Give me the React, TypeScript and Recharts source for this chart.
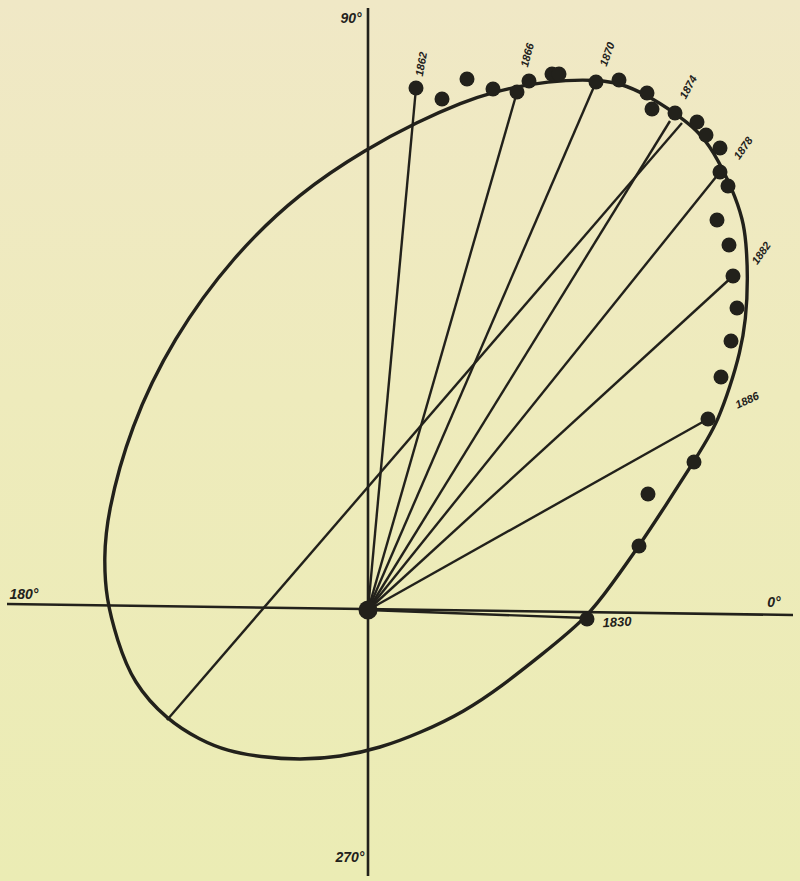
import React from 'react';
import { ScatterChart, Scatter, XAxis, YAxis, ReferenceLine } from 'recharts';

// Coordinates: offsets from the origin of the diagram (east = +x, north = +y)
const orbitPoints = [
  { x: 0, y: 462 }, { x: -68, y: 418 }, { x: -135, y: 354 }, { x: -195, y: 272 },
  { x: -238, y: 183 }, { x: -261, y: 95 }, { x: -264, y: 52 }, { x: -262, y: 12 },
  { x: -251, y: -30 }, { x: -235, y: -73 }, { x: -201, y: -110 }, { x: -168, y: -130 },
  { x: -141, y: -141 }, { x: -108, y: -147 }, { x: -68, y: -150 }, { x: -28, y: -147 },
  { x: 12, y: -138 }, { x: 52, y: -123 }, { x: 96, y: -102 }, { x: 134, y: -76 },
  { x: 172, y: -46 }, { x: 219, y: -8 }, { x: 244, y: 26 }, { x: 271, y: 64 },
  { x: 298, y: 105 }, { x: 325, y: 147 }, { x: 339, y: 170 }, { x: 350, y: 190 },
  { x: 362, y: 223 }, { x: 372, y: 257 }, { x: 378, y: 290 }, { x: 380, y: 333 },
  { x: 378, y: 369 }, { x: 375, y: 390 }, { x: 365, y: 420 }, { x: 345, y: 460 },
  { x: 329, y: 480 }, { x: 307, y: 497 }, { x: 279, y: 515 }, { x: 252, y: 527 },
  { x: 229, y: 530 }, { x: 199, y: 530 }, { x: 162, y: 526 }, { x: 125, y: 518 },
  { x: 95, y: 508 }, { x: 49, y: 488 },
];

const observations = [
  { x: 48, y: 522 }, { x: 74, y: 511 }, { x: 99, y: 531 }, { x: 125, y: 521 },
  { x: 149, y: 518 }, { x: 161, y: 529 }, { x: 184, y: 536 }, { x: 191, y: 536 },
  { x: 228, y: 528 }, { x: 251, y: 530 }, { x: 279, y: 517 }, { x: 284, y: 501 },
  { x: 307, y: 497 }, { x: 329, y: 488 }, { x: 338, y: 475 }, { x: 352, y: 462 },
  { x: 352, y: 438 }, { x: 360, y: 424 }, { x: 349, y: 390 }, { x: 361, y: 365 },
  { x: 365, y: 334 }, { x: 369, y: 302 }, { x: 363, y: 269 }, { x: 353, y: 233 },
  { x: 340, y: 191 }, { x: 326, y: 148 }, { x: 280, y: 116 }, { x: 271, y: 64 },
  { x: 219, y: -9 },
];

const primary = [{ x: 0, y: 0 }];

const radiusVectors = [
  { year: '1862', x: 48, y: 522 },
  { year: '1866', x: 149, y: 518 },
  { year: '1870', x: 228, y: 528 },
  { year: '1874', x: 302, y: 489 },
  { year: '1878', x: 352, y: 438 },
  { year: '1882', x: 365, y: 334 },
  { year: '1886', x: 340, y: 191 },
  { year: '1830', x: 219, y: -8 },
];

const majorAxis = [{ x: -201, y: -110 }, { x: 314, y: 487 }];

const horizontalAxis = [{ x: -361, y: 6 }, { x: 425, y: -5 }];
const verticalAxis = [{ x: 0, y: 602 }, { x: 0, y: -266 }];

const yearLabels = [
  { text: '1862', x: 53, y: 546 },
  { text: '1866', x: 159, y: 555 },
  { text: '1870', x: 239, y: 556 },
  { text: '1874', x: 320, y: 523 },
  { text: '1878', x: 375, y: 462 },
  { text: '1882', x: 393, y: 357 },
  { text: '1886', x: 379, y: 210 },
  { text: '1830', x: 249, y: -12 },
];

const axisLabels = [
  { text: '90°', x: -17, y: 592 },
  { text: '270°', x: -18, y: -247 },
  { text: '180°', x: -344, y: 16 },
  { text: '0°', x: 406, y: 8 },
];

const labelAngle: Record<string, number> = {
  '1862': -80, '1866': -75, '1870': -70, '1874': -62,
  '1878': -55, '1882': -55, '1886': -25, '1830': -3,
};

const INK = '#22211b';
const X_DOMAIN: [number, number] = [-368, 432];
const Y_DOMAIN: [number, number] = [-271, 610];

const YearText = (p: any) => {
  const a = labelAngle[p.payload.text] ?? 0;
  return (
    <text
      x={p.cx}
      y={p.cy}
      textAnchor="middle"
      dominantBaseline="central"
      transform={`rotate(${a}, ${p.cx}, ${p.cy})`}
      fontFamily="Liberation Sans, Arial, sans-serif"
      fontStyle="italic"
      fontWeight="bold"
      fontSize={p.payload.text === '1830' ? 13 : 11}
      fill={INK}
    >
      {p.payload.text}
    </text>
  );
};

const AxisText = (p: any) => (
  <text
    x={p.cx}
    y={p.cy}
    textAnchor="middle"
    dominantBaseline="central"
    fontFamily="Liberation Sans, Arial, sans-serif"
    fontStyle="italic"
    fontWeight="bold"
    fontSize={14}
    fill={INK}
  >
    {p.payload.text}
  </text>
);

export default function App() {
  return (
    <div
      style={{
        position: 'absolute',
        left: 0,
        top: 0,
        width: 800,
        height: 881,
        background: 'linear-gradient(180deg, #f0e8c6 0%, #eeebbc 45%, #ebecb4 100%)',
      }}
    >
      <ScatterChart width={800} height={881} margin={{ top: 0, right: 0, bottom: 0, left: 0 }}>
        <XAxis type="number" dataKey="x" domain={X_DOMAIN} allowDataOverflow hide />
        <YAxis type="number" dataKey="y" domain={Y_DOMAIN} allowDataOverflow hide />
        <ReferenceLine
          segment={[horizontalAxis[0], horizontalAxis[1]]}
          stroke={INK}
          strokeWidth={2.6}
          ifOverflow="visible"
        />
        <ReferenceLine
          segment={[verticalAxis[0], verticalAxis[1]]}
          stroke={INK}
          strokeWidth={2.6}
          ifOverflow="visible"
        />
        <ReferenceLine
          segment={[majorAxis[0], majorAxis[1]]}
          stroke={INK}
          strokeWidth={2.4}
          ifOverflow="visible"
        />
        {radiusVectors.map((r) => (
          <ReferenceLine
            key={r.year}
            segment={[{ x: 0, y: 0 }, { x: r.x, y: r.y }]}
            stroke={INK}
            strokeWidth={2.4}
            ifOverflow="visible"
          />
        ))}
        <Scatter
          data={orbitPoints}
          fill="none"
          line={{ stroke: INK, strokeWidth: 3.4, fill: 'none' }}
          lineJointType="basisClosed"
          shape={() => <g />}
          isAnimationActive={false}
        />
        <Scatter
          data={observations}
          shape={(p: any) => <circle cx={p.cx} cy={p.cy} r={7.5} fill={INK} />}
          isAnimationActive={false}
        />
        <Scatter
          data={primary}
          shape={(p: any) => <circle cx={p.cx} cy={p.cy} r={9.5} fill={INK} />}
          isAnimationActive={false}
        />
        <Scatter data={yearLabels} shape={YearText} isAnimationActive={false} />
        <Scatter data={axisLabels} shape={AxisText} isAnimationActive={false} />
      </ScatterChart>
    </div>
  );
}
